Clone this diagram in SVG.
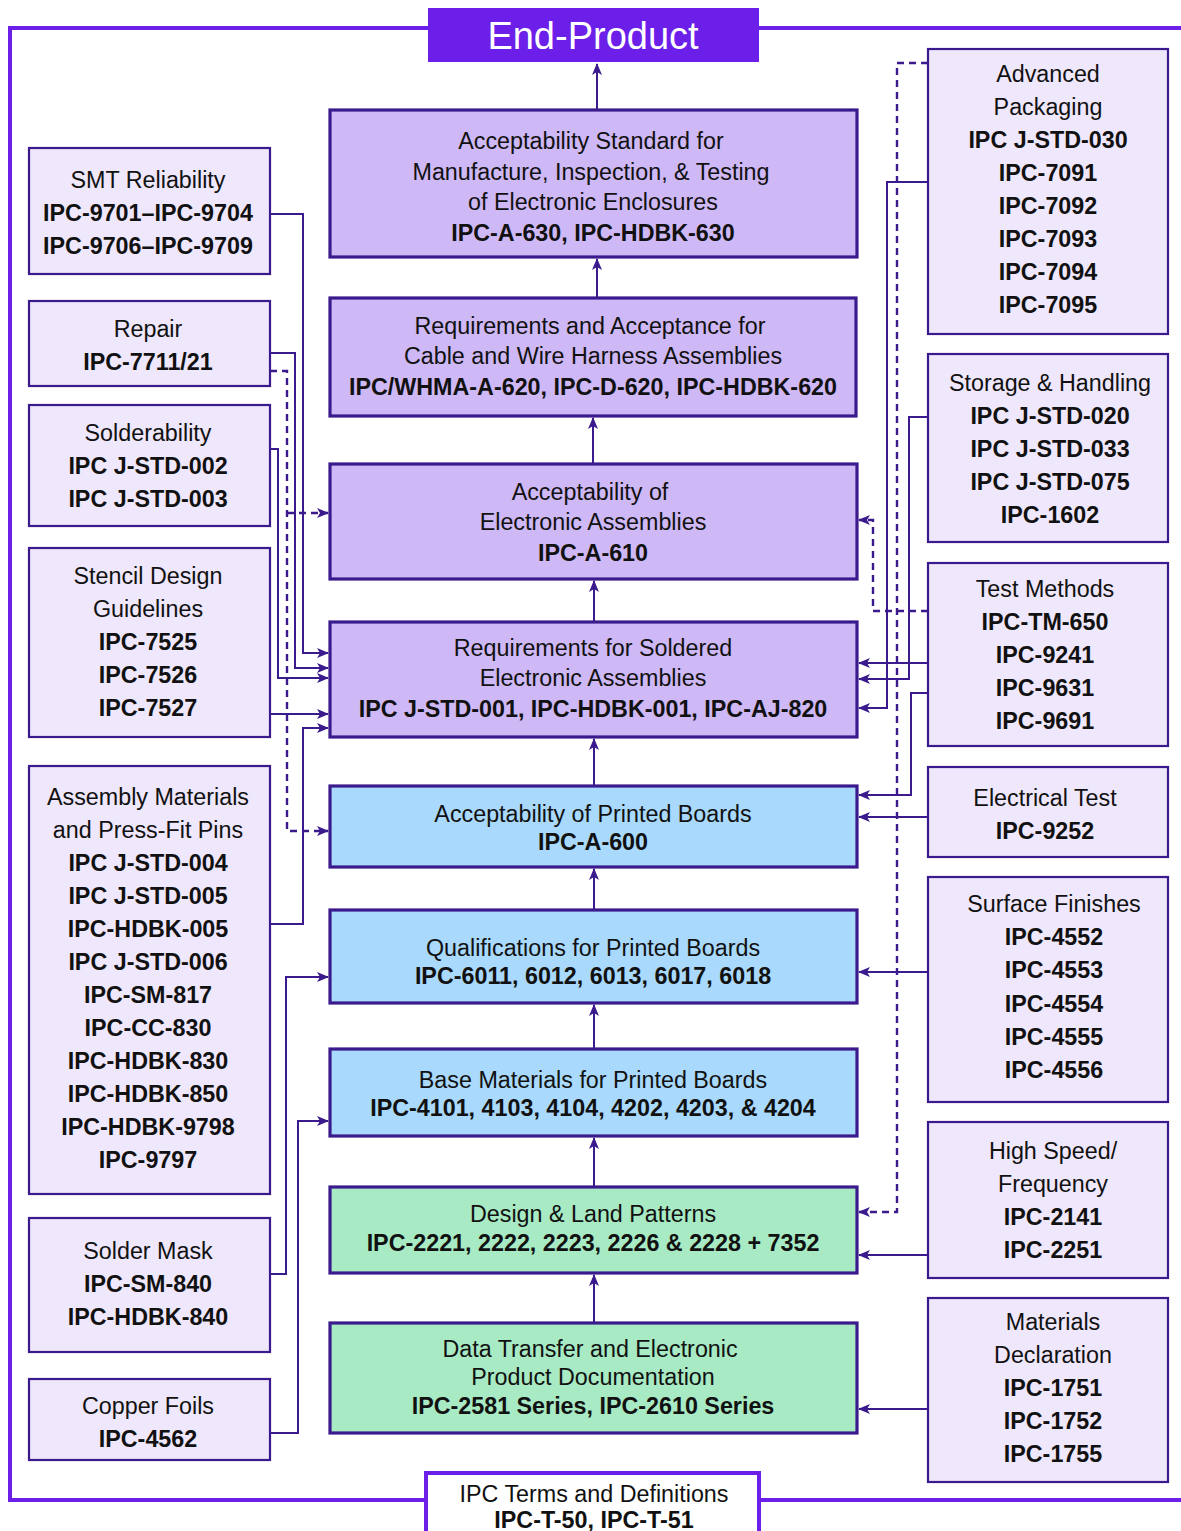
<svg xmlns="http://www.w3.org/2000/svg" width="1181" height="1531" viewBox="0 0 1181 1531">
<style>
text{font-family:"Liberation Sans",Arial,sans-serif;font-size:23.3px;fill:#111;text-anchor:middle}
.b{font-weight:bold}
.cp{fill:#cfb8f6;stroke:#3a1a8c;stroke-width:3.2}
.cb{fill:#a9d9fc;stroke:#3a1a8c;stroke-width:3.2}
.cg{fill:#a7eac4;stroke:#3a1a8c;stroke-width:3.2}
.sd{fill:#efe7fb;stroke:#3a1a8c;stroke-width:2.2}
.c{fill:none;stroke:#3a1a8c;stroke-width:2}
.d{fill:none;stroke:#3a1a8c;stroke-width:2.4;stroke-dasharray:7 5}
</style>
<defs>
<marker id="ah" viewBox="0 0 12 10" refX="11" refY="5" markerWidth="12" markerHeight="10" orient="auto" markerUnits="userSpaceOnUse"><path d="M0,0 L12,5 L0,10 L3,5 z" fill="#3a1a8c"/></marker>
</defs>
<rect width="1181" height="1531" fill="#fff"/>
<!-- frame -->
<path d="M1181,28 H10 V1500 H1181" fill="none" stroke="#6b1fe9" stroke-width="4"/>
<g id="end-product"><rect x="428" y="8" width="331" height="54" fill="#6b1fe9"/><text x="593" y="49" style="font-size:38px;fill:#fff">End-Product</text></g>
<g id="terms"><rect x="426" y="1473" width="333" height="70" fill="#fff" stroke="#6b1fe9" stroke-width="4"/><text x="594" y="1502">IPC Terms and Definitions</text><text class="b" x="594" y="1528">IPC-T-50, IPC-T-51</text></g>
<!-- center nodes -->
<g id="n630"><rect class="cp" x="330" y="110" width="527" height="147"/><text x="591" y="149">Acceptability Standard for</text><text x="591" y="180">Manufacture, Inspection, &amp; Testing</text><text x="593" y="210">of Electronic Enclosures</text><text class="b" x="593" y="241">IPC-A-630, IPC-HDBK-630</text></g>
<g id="n620"><rect class="cp" x="330" y="298" width="526" height="118"/><text x="590" y="334">Requirements and Acceptance for</text><text x="593" y="364">Cable and Wire Harness Assemblies</text><text class="b" x="593" y="395">IPC/WHMA-A-620, IPC-D-620, IPC-HDBK-620</text></g>
<g id="n610"><rect class="cp" x="330" y="464" width="527" height="115"/><text x="590" y="500">Acceptability of</text><text x="593" y="530">Electronic Assemblies</text><text class="b" x="593" y="561">IPC-A-610</text></g>
<g id="n001"><rect class="cp" x="330" y="622" width="527" height="115"/><text x="593" y="656">Requirements for Soldered</text><text x="593" y="686">Electronic Assemblies</text><text class="b" x="593" y="717">IPC J-STD-001, IPC-HDBK-001, IPC-AJ-820</text></g>
<g id="n600"><rect class="cb" x="330" y="786" width="527" height="81"/><text x="593" y="822">Acceptability of Printed Boards</text><text class="b" x="593" y="850">IPC-A-600</text></g>
<g id="n6011"><rect class="cb" x="330" y="910" width="527" height="93"/><text x="593" y="956">Qualifications for Printed Boards</text><text class="b" x="593" y="984">IPC-6011, 6012, 6013, 6017, 6018</text></g>
<g id="n4101"><rect class="cb" x="330" y="1049" width="527" height="87"/><text x="593" y="1088">Base Materials for Printed Boards</text><text class="b" x="593" y="1116">IPC-4101, 4103, 4104, 4202, 4203, &amp; 4204</text></g>
<g id="n2221"><rect class="cg" x="330" y="1187" width="527" height="86"/><text x="593" y="1222">Design &amp; Land Patterns</text><text class="b" x="593" y="1251">IPC-2221, 2222, 2223, 2226 &amp; 2228 + 7352</text></g>
<g id="n2581"><rect class="cg" x="330" y="1323" width="527" height="110"/><text x="590" y="1357">Data Transfer and Electronic</text><text x="593" y="1385">Product Documentation</text><text class="b" x="593" y="1414">IPC-2581 Series, IPC-2610 Series</text></g>
<!-- left nodes -->
<g id="smt"><rect class="sd" x="29" y="148" width="241" height="126"/><text x="148" y="188">SMT Reliability</text><text class="b" x="148" y="221">IPC-9701–IPC-9704</text><text class="b" x="148" y="254">IPC-9706–IPC-9709</text></g>
<g id="repair"><rect class="sd" x="29" y="301" width="241" height="85"/><text x="148" y="337">Repair</text><text class="b" x="148" y="370">IPC-7711/21</text></g>
<g id="solderability"><rect class="sd" x="29" y="405" width="241" height="121"/><text x="148" y="441">Solderability</text><text class="b" x="148" y="474">IPC J-STD-002</text><text class="b" x="148" y="507">IPC J-STD-003</text></g>
<g id="stencil"><rect class="sd" x="29" y="548" width="241" height="189"/><text x="148" y="584">Stencil Design</text><text x="148" y="617">Guidelines</text><text class="b" x="148" y="650">IPC-7525</text><text class="b" x="148" y="683">IPC-7526</text><text class="b" x="148" y="716">IPC-7527</text></g>
<g id="assembly"><rect class="sd" x="29" y="766" width="241" height="428"/><text x="148" y="805">Assembly Materials</text><text x="148" y="838">and Press-Fit Pins</text><text class="b" x="148" y="871">IPC J-STD-004</text><text class="b" x="148" y="904">IPC J-STD-005</text><text class="b" x="148" y="937">IPC-HDBK-005</text><text class="b" x="148" y="970">IPC J-STD-006</text><text class="b" x="148" y="1003">IPC-SM-817</text><text class="b" x="148" y="1036">IPC-CC-830</text><text class="b" x="148" y="1069">IPC-HDBK-830</text><text class="b" x="148" y="1102">IPC-HDBK-850</text><text class="b" x="148" y="1135">IPC-HDBK-9798</text><text class="b" x="148" y="1168">IPC-9797</text></g>
<g id="soldermask"><rect class="sd" x="29" y="1218" width="241" height="134"/><text x="148" y="1259">Solder Mask</text><text class="b" x="148" y="1292">IPC-SM-840</text><text class="b" x="148" y="1325">IPC-HDBK-840</text></g>
<g id="copper"><rect class="sd" x="29" y="1379" width="241" height="81"/><text x="148" y="1414">Copper Foils</text><text class="b" x="148" y="1447">IPC-4562</text></g>
<!-- right nodes -->
<g id="advpack"><rect class="sd" x="928" y="49" width="240" height="285"/><text x="1048" y="82">Advanced</text><text x="1048" y="115">Packaging</text><text class="b" x="1048" y="148">IPC J-STD-030</text><text class="b" x="1048" y="181">IPC-7091</text><text class="b" x="1048" y="214">IPC-7092</text><text class="b" x="1048" y="247">IPC-7093</text><text class="b" x="1048" y="280">IPC-7094</text><text class="b" x="1048" y="313">IPC-7095</text></g>
<g id="storage"><rect class="sd" x="928" y="354" width="240" height="188"/><text x="1050" y="391">Storage &amp; Handling</text><text class="b" x="1050" y="424">IPC J-STD-020</text><text class="b" x="1050" y="457">IPC J-STD-033</text><text class="b" x="1050" y="490">IPC J-STD-075</text><text class="b" x="1050" y="523">IPC-1602</text></g>
<g id="testmethods"><rect class="sd" x="928" y="563" width="240" height="183"/><text x="1045" y="597">Test Methods</text><text class="b" x="1045" y="630">IPC-TM-650</text><text class="b" x="1045" y="663">IPC-9241</text><text class="b" x="1045" y="696">IPC-9631</text><text class="b" x="1045" y="729">IPC-9691</text></g>
<g id="electrical"><rect class="sd" x="928" y="767" width="240" height="90"/><text x="1045" y="806">Electrical Test</text><text class="b" x="1045" y="839">IPC-9252</text></g>
<g id="surface"><rect class="sd" x="928" y="877" width="240" height="225"/><text x="1054" y="912">Surface Finishes</text><text class="b" x="1054" y="945">IPC-4552</text><text class="b" x="1054" y="978">IPC-4553</text><text class="b" x="1054" y="1012">IPC-4554</text><text class="b" x="1054" y="1045">IPC-4555</text><text class="b" x="1054" y="1078">IPC-4556</text></g>
<g id="highspeed"><rect class="sd" x="928" y="1122" width="240" height="156"/><text x="1053" y="1159">High Speed/</text><text x="1053" y="1192">Frequency</text><text class="b" x="1053" y="1225">IPC-2141</text><text class="b" x="1053" y="1258">IPC-2251</text></g>
<g id="matdecl"><rect class="sd" x="928" y="1298" width="240" height="184"/><text x="1053" y="1330">Materials</text><text x="1053" y="1363">Declaration</text><text class="b" x="1053" y="1396">IPC-1751</text><text class="b" x="1053" y="1429">IPC-1752</text><text class="b" x="1053" y="1462">IPC-1755</text></g>
<!-- connectors -->
<g id="connectors" marker-end="url(#ah)">
<path class="c" d="M597,110 V64"/>
<path class="c" d="M597,298 V259"/>
<path class="c" d="M593,464 V418"/>
<path class="c" d="M594,622 V581"/>
<path class="c" d="M594,786 V739"/>
<path class="c" d="M594,910 V869"/>
<path class="c" d="M594,1049 V1005"/>
<path class="c" d="M594,1187 V1138"/>
<path class="c" d="M594,1323 V1275"/>
<path class="c" d="M270,214 H303 V653 H328"/>
<path class="c" d="M270,353 H295 V668 H328"/>
<path class="d" d="M270,371 H287 V831 H328"/>
<path class="d" d="M287,513 H328"/>
<path class="c" d="M270,449 H278 V678 H328"/>
<path class="c" d="M270,714 H328"/>
<path class="c" d="M270,924 H303 V728 H328"/>
<path class="c" d="M270,1274 H286 V977 H328"/>
<path class="c" d="M270,1433 H298 V1121 H328"/>
<path class="d" d="M928,63 H897 V1212 H859"/>
<path class="c" d="M928,182 H887 V708 H859"/>
<path class="c" d="M928,417 H909 V679 H859"/>
<path class="d" d="M928,611 H873 V520 H859"/>
<path class="c" d="M928,663 H859"/>
<path class="c" d="M928,693 H911 V795 H859"/>
<path class="c" d="M928,817 H859"/>
<path class="c" d="M928,972 H859"/>
<path class="c" d="M928,1255 H859"/>
<path class="c" d="M928,1409 H859"/>
</g>
</svg>
